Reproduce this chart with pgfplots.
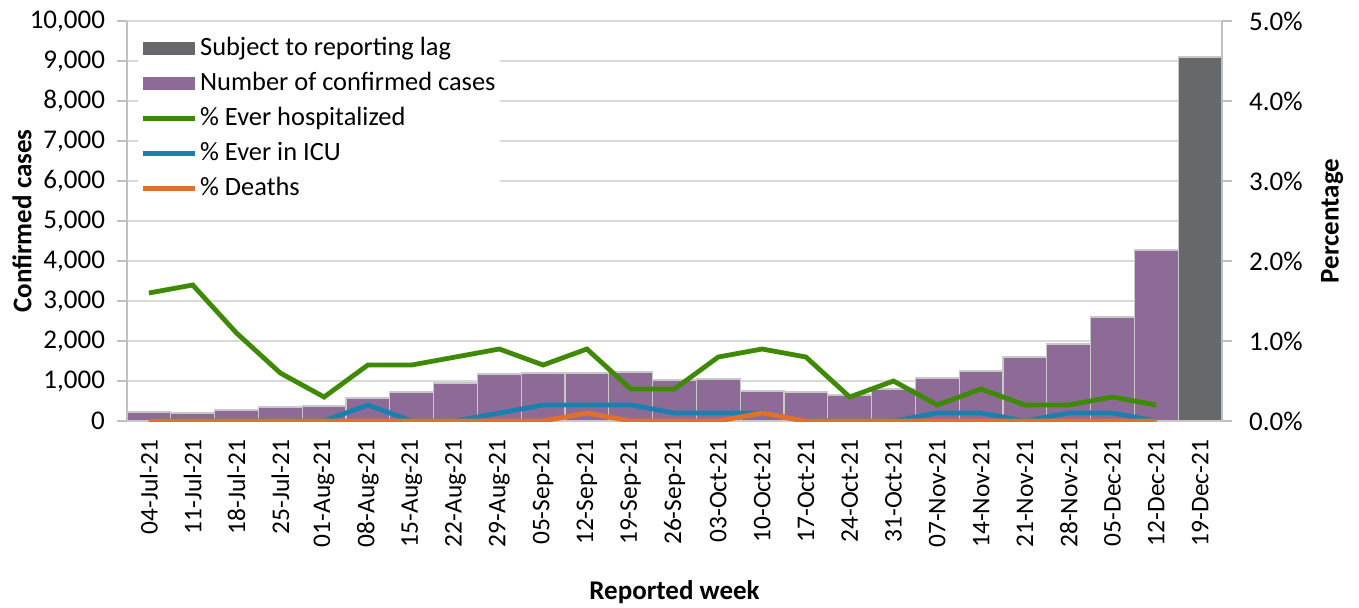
\documentclass[border=0pt]{standalone}
\usepackage{fontspec}
\setmainfont{Carlito}
\usepackage{pgfplots}
\pgfplotsset{compat=1.18}
\usepackage{pgfplotstable}
\definecolor{cpurple}{HTML}{8E6B96}
\definecolor{cgray}{HTML}{67686C}
\definecolor{cgreen}{HTML}{3F8A04}
\definecolor{cblue}{HTML}{1B80B0}
\definecolor{corange}{HTML}{E2702D}
\definecolor{gridgray}{HTML}{D9D9D9}
\definecolor{axisgray}{HTML}{BFBFBF}
\definecolor{bordergray}{HTML}{C8C8C8}

\pgfplotstableread{
idx cases
0 225
1 200
2 275
3 350
4 375
5 575
6 725
7 950
8 1175
9 1200
10 1200
11 1225
12 1025
13 1050
14 750
15 725
16 650
17 800
18 1075
19 1250
20 1600
21 1925
22 2600
23 4275
}\casestable

\pgfplotstableread{
idx hosp icu death
0 1.6 0 0
1 1.7 0 0
2 1.1 0 0
3 0.6 0 0
4 0.3 0 0
5 0.7 0.2 0
6 0.7 0 0
7 0.8 0 0
8 0.9 0.1 0
9 0.7 0.2 0
10 0.9 0.2 0.1
11 0.4 0.2 0
12 0.4 0.1 0
13 0.8 0.1 0
14 0.9 0.1 0.1
15 0.8 0 0
16 0.3 0 0
17 0.5 0 0
18 0.2 0.1 0
19 0.4 0.1 0
20 0.2 0 0
21 0.2 0.1 0
22 0.3 0.1 0
23 0.2 0 0
}\pcttable

\pgfplotsset{
  barlegend/.style={legend image code/.code={\fill[##1] (0pt,-3.4pt) rectangle (26pt,3.4pt);}},
}

\begin{document}
\fontsize{13}{15.6}\selectfont
\begin{tikzpicture}
\begin{axis}[
  at={(0,0)}, anchor=south west,
  scale only axis, width=547.5pt, height=200pt,
  xmin=-0.5, xmax=24.5, ymin=0, ymax=10000,
  axis x line*=bottom, axis y line*=left,
  axis line style={draw=axisgray, line width=0.6pt},
  ytick={0,1000,...,10000},
  ymajorgrids, grid style={draw=gridgray, line width=0.6pt},
  scaled y ticks=false,
  yticklabel style={/pgf/number format/1000 sep={,}, /pgf/number format/assume math mode=true, font=\fontsize{13.5}{16}\selectfont, xshift=-1.5pt},
  tick align=outside, major tick length=5pt,
  ytick style={draw=axisgray, line width=0.6pt},
  xtick={0,...,24},
  xticklabels={04-Jul-21,11-Jul-21,18-Jul-21,25-Jul-21,01-Aug-21,08-Aug-21,15-Aug-21,22-Aug-21,29-Aug-21,05-Sep-21,12-Sep-21,19-Sep-21,26-Sep-21,03-Oct-21,10-Oct-21,17-Oct-21,24-Oct-21,31-Oct-21,07-Nov-21,14-Nov-21,21-Nov-21,28-Nov-21,05-Dec-21,12-Dec-21,19-Dec-21},
  xtick style={draw=none},
  xticklabel style={rotate=90, anchor=east, font=\fontsize{12.7}{15}\selectfont},
  ylabel={\bfseries Confirmed cases},
  ylabel style={at={(axis description cs:-0.0959,0.5)}, anchor=center, font=\fontsize{13.5}{16}\selectfont},
  xlabel={\bfseries Reported week},
  xlabel style={at={(axis description cs:0.5,-0.4275)}, anchor=center, font=\fontsize{13.5}{16}\selectfont},
  ybar, bar width=21.9pt,
]
\addplot[fill=cpurple, draw=bordergray, line width=0.6pt, bar shift=0pt] table[x=idx,y=cases]{\casestable};
\addplot[fill=cgray, draw=bordergray, line width=0.6pt, bar shift=0pt] coordinates {(24,9100)};
\end{axis}
\begin{axis}[
  at={(0,0)}, anchor=south west,
  scale only axis, width=547.5pt, height=200pt,
  xmin=-0.5, xmax=24.5, ymin=0, ymax=5,
  axis y line*=right, axis x line=none,
  axis line style={draw=axisgray, line width=0.6pt},
  xtick=\empty,
  ytick={0,1,...,5},
  yticklabel={\pgfmathprintnumber[fixed,fixed zerofill,precision=1,assume math mode=true]{\tick}\%},
  yticklabel style={font=\fontsize{13.5}{16}\selectfont, xshift=4pt},
  tick align=outside, major tick length=5pt,
  ytick style={draw=axisgray, line width=0.6pt},
  ylabel={\bfseries Percentage},
  ylabel style={at={(axis description cs:1.1005,0.5)}, anchor=center, font=\fontsize{13.5}{16}\selectfont},
  legend image code/.code={\draw[#1] (0pt,0pt) -- (26pt,0pt);},
  legend cell align=left,
  legend style={at={(axis description cs:0.010,0.975)}, anchor=north west, draw=none, fill=white, font=\fontsize{13.2}{15.8}\selectfont, row sep=2.5pt, inner sep=1pt, nodes={inner sep=1.5pt, text height=9.5pt, text depth=2.5pt}},
]
\addlegendimage{barlegend, fill=cgray, draw=none}
\addlegendentry{Subject to reporting lag}
\addlegendimage{barlegend, fill=cpurple, draw=none}
\addlegendentry{Number of confirmed cases}
\addplot[cgreen, line width=2.4pt] table[x=idx,y=hosp]{\pcttable};
\addlegendentry{\% Ever hospitalized}
\addplot[cblue, line width=2.4pt] table[x=idx,y=icu]{\pcttable};
\addlegendentry{\% Ever in ICU}
\addplot[corange, line width=2.4pt] table[x=idx,y=death]{\pcttable};
\addlegendentry{\% Deaths}
\end{axis}
\pgfresetboundingbox
\path[use as bounding box] (-63.5pt,-93pt) rectangle (616pt,210.5pt);
\end{tikzpicture}
\end{document}
